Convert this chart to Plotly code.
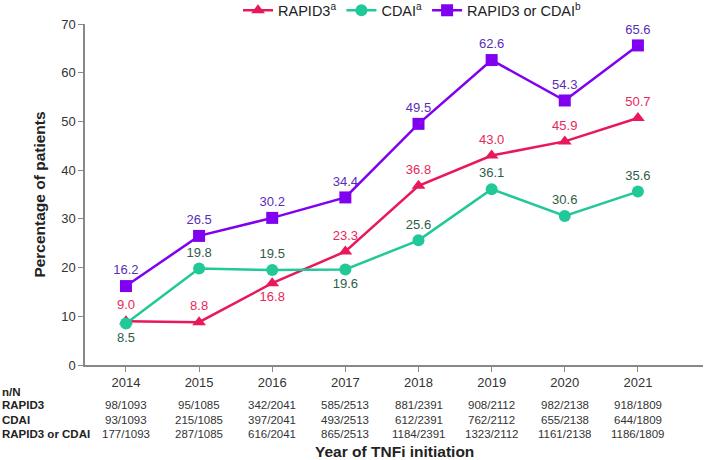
import plotly.graph_objects as go

# data
years = [2014, 2015, 2016, 2017, 2018, 2019, 2020, 2021]
rapid3 = [9.0, 8.8, 16.8, 23.3, 36.8, 43.0, 45.9, 50.7]
cdai = [8.5, 19.8, 19.5, 19.6, 25.6, 36.1, 30.6, 35.6]
either = [16.2, 26.5, 30.2, 34.4, 49.5, 62.6, 54.3, 65.6]

rapid3_pos = ["top center", "top center", "bottom center", "top center",
              "top center", "top center", "top center", "top center"]
cdai_pos = ["bottom center", "top center", "top center", "bottom center",
            "top center", "top center", "top center", "top center"]

# n/N table rows
rapid3_n = ["98/1093", "95/1085", "342/2041", "585/2513", "881/2391", "908/2112", "982/2138", "918/1809"]
cdai_n = ["93/1093", "215/1085", "397/2041", "493/2513", "612/2391", "762/2112", "655/2138", "644/1809"]
either_n = ["177/1093", "287/1085", "616/2041", "865/2513", "1184/2391", "1323/2112", "1161/2138", "1186/1809"]
row_names = ["RAPID3", "CDAI", "RAPID3 or CDAI"]

col_rapid = "#E8185A"
col_cdai = "#20C997"
col_either = "#8000F0"

fig = go.Figure()

fig.add_trace(go.Scatter(
    x=years, y=rapid3, name="RAPID3<sup>a</sup>", mode="lines+markers+text",
    line=dict(color=col_rapid, width=2.5),
    marker=dict(symbol="triangle-up", size=12, color=col_rapid),
    text=[f"{v:.1f}" for v in rapid3], textposition=rapid3_pos,
    textfont=dict(color="#E8285A", size=13)))

fig.add_trace(go.Scatter(
    x=years, y=cdai, name="CDAI<sup>a</sup>", mode="lines+markers+text",
    line=dict(color=col_cdai, width=2.5),
    marker=dict(symbol="circle", size=12, color=col_cdai),
    text=[f"{v:.1f}" for v in cdai], textposition=cdai_pos,
    textfont=dict(color="#2F5D47", size=13)))

fig.add_trace(go.Scatter(
    x=years, y=either, name="RAPID3 or CDAI<sup>b</sup>", mode="lines+markers+text",
    line=dict(color=col_either, width=2.5),
    marker=dict(symbol="square", size=12, color=col_either),
    text=[f"{v:.1f}" for v in either], textposition="top center",
    textfont=dict(color="#5A2DB8", size=13)))

# table under the axis (plot area is 341 px tall)
table_y = [-0.117, -0.16, -0.202]
for row, y in zip([rapid3_n, cdai_n, either_n], table_y):
    for yr, val in zip(years, row):
        fig.add_annotation(x=yr, y=y, xref="x", yref="paper", text=val,
                           showarrow=False, yanchor="middle",
                           font=dict(size=11.5, color="#333"))

fig.add_annotation(x=-0.137, y=-0.078, xref="paper", yref="paper", text="<b>n/N</b>",
                   showarrow=False, xanchor="left", yanchor="middle",
                   font=dict(size=11.5, color="#222"))
for name, y in zip(row_names, table_y):
    fig.add_annotation(x=-0.137, y=y, xref="paper", yref="paper", text=f"<b>{name}</b>",
                       showarrow=False, xanchor="left", yanchor="middle",
                       font=dict(size=11.5, color="#222"))

fig.add_annotation(x=0.5, y=-0.254, xref="paper", yref="paper",
                   text="<b>Year of TNFi initiation</b>", showarrow=False,
                   yanchor="middle", font=dict(size=15.5, color="#222"))

fig.update_layout(
    width=709, height=460,
    margin=dict(l=85, r=6, t=24, b=95, autoexpand=False),
    plot_bgcolor="white", paper_bgcolor="white",
    font=dict(family="Liberation Sans, Arial, sans-serif", color="#333"),
    legend=dict(orientation="h", x=0.53, xanchor="center", y=1.04, yanchor="middle",
                font=dict(size=14.5, color="#222")),
    xaxis=dict(range=[2013.44, 2021.89], tickvals=years, showgrid=False,
               showline=True, linecolor="#888", linewidth=1.5,
               ticks="outside", ticklen=5, tickcolor="#888",
               tickfont=dict(size=13, color="#333"), zeroline=False),
    yaxis=dict(range=[0, 70], dtick=10, showgrid=False,
               showline=True, linecolor="#888", linewidth=1.5,
               ticks="outside", ticklen=5, tickcolor="#888",
               tickfont=dict(size=13, color="#333"), zeroline=False,
               title=dict(text="<b>Percentage of patients</b>",
                          font=dict(size=15.5, color="#222"), standoff=12)),
)

# drop the page's default body margin so the figure fills the window
fig.write_html("out.html", config={"displayModeBar": False},
               post_script="document.body.style.margin='0';")
